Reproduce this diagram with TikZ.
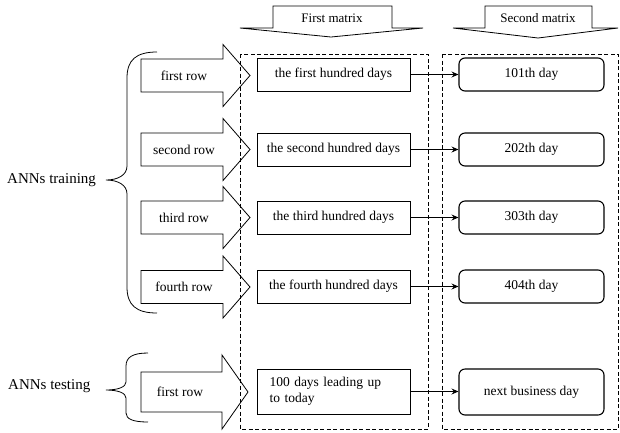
\documentclass[tikz,border=0pt]{standalone}
\usepackage{fontspec}
\setmainfont{Liberation Serif}
\usetikzlibrary{arrows.meta}
\tikzset{
    datastep/.style={rectangle, draw=black, line width=0.8pt, minimum width=153pt, minimum height=33pt, align=center, font=\fontsize{13.5}{15}\selectfont, inner sep=2pt},
    daystep/.style={rectangle, rounded corners=6pt, draw=black, line width=1.1pt, minimum width=145pt, minimum height=33pt, align=center, font=\fontsize{13.5}{15}\selectfont},
    rowlbl/.style={font=\fontsize{13.5}{15}\selectfont, inner sep=0pt},
    blockarr/.style={draw=black, line width=0.8pt, line join=miter},
    hdrlbl/.style={font=\fontsize{13}{15}\selectfont, inner sep=0pt},
    grouplbl/.style={font=\fontsize{15}{17}\selectfont, anchor=west, inner sep=0pt},
    curlybrace/.style={draw=black, line width=0.8pt},
    dashbox/.style={draw=black, line width=0.8pt, dash pattern=on 4pt off 2.5pt},
    conn/.style={-{Stealth[length=7pt, width=6pt, inset=2.5pt]}, line width=0.8pt}
}
\begin{document}
\begin{tikzpicture}[x=1pt, y=-1pt]
    \useasboundingbox (0,0) rectangle (620,432);

    % Matrix frames
    \draw[dashbox] (240,54) rectangle (428,429);
    \draw[dashbox] (442,54) rectangle (618,429);

    % Header arrows
    \draw[blockarr] (273,6) -- (392,6) -- (392,28) -- (423,28) -- (331,37) -- (240,28) -- (273,28) -- cycle;
    \node[hdrlbl] (hdr1) at (332,18) {First matrix};
    \draw[blockarr] (485,6) -- (592,6) -- (592,28) -- (618,28) -- (538,38) -- (453,28) -- (485,28) -- cycle;
    \node[hdrlbl] (hdr2) at (538,18) {Second matrix};

    % Training rows
    \foreach \y/\lbl in {75.5/first row, 149.5/second row, 217.5/third row, 287/fourth row} {
        \draw[blockarr] (141,\y-16.5) -- (223,\y-16.5) -- (223,\y-31) -- (250,\y) -- (223,\y+31) -- (223,\y+16.5) -- (141,\y+16.5) -- cycle;
        \node[rowlbl] at (184,\y) {\lbl};
    }
    % Testing row
    \draw[blockarr] (141,372) -- (222,372) -- (222,355) -- (248,392) -- (222,429) -- (222,412) -- (141,412) -- cycle;
    \node[rowlbl] (trow) at (180,392) {first row};

    % First matrix
    \node[datastep] (m1) at (333.5,74.5) {the first hundred days};
    \node[datastep] (m2) at (333.5,149.5) {the second hundred days};
    \node[datastep] (m3) at (333.5,217.5) {the third hundred days};
    \node[datastep] (m4) at (333.5,286.5) {the fourth hundred days};
    \node[datastep, minimum height=45pt, text width=128pt, align=left, font=\fontsize{13.5}{16}\selectfont] (m5) at (333.5,391.5) {100 days leading up\\to today};

    % Second matrix
    \node[daystep] (d1) at (531.5,74.5) {101th day};
    \node[daystep] (d2) at (531.5,149.5) {202th day};
    \node[daystep] (d3) at (531.5,217.5) {303th day};
    \node[daystep] (d4) at (531.5,286.5) {404th day};
    \node[daystep, minimum height=46pt] (d5) at (531.5,392) {next business day};

    \foreach \i in {1,...,5} \draw[conn] (m\i.east) -- (m\i.east -| d\i.west);

    % Braces
    \draw[curlybrace] (157,52) .. controls (136,52) and (127,60) .. (127,78) -- (127,166) .. controls (127,175) and (118,180) .. (106,180) .. controls (118,180) and (127,185) .. (127,194) -- (127,287) .. controls (127,305) and (136,313) .. (157,313);
    \node[grouplbl] (train) at (7,180) {ANNs training};
    \draw[curlybrace] (148,353) .. controls (133,353) and (126,357) .. (126,366) -- (126,382) .. controls (126,387) and (118,390) .. (106,390) .. controls (118,390) and (126,393) .. (126,398) -- (126,413) .. controls (126,419) and (133,422) .. (148,422);
    \node[grouplbl] (test) at (8,386) {ANNs testing};
\end{tikzpicture}
\end{document}
